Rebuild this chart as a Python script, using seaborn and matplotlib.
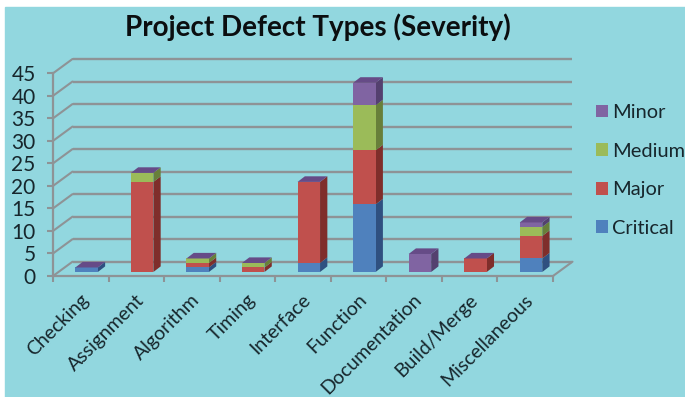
import matplotlib
matplotlib.use("Agg")
import matplotlib.pyplot as plt
from matplotlib.patches import Polygon, Rectangle
from matplotlib.transforms import Affine2D
import numpy as np
import seaborn as sns

# Defect counts per type, split by severity
categories = ["Checking", "Assignment", "Algorithm", "Timing", "Interface",
              "Function", "Documentation", "Build/Merge", "Miscellaneous"]
critical = [1, 0, 1, 0, 2, 15, 0, 0, 3]
major = [0, 20, 1, 1, 18, 12, 0, 3, 5]
medium = [0, 2, 1, 1, 0, 10, 0, 0, 2]
minor = [0, 0, 0, 0, 0, 5, 4, 0, 1]
series_names = ["Critical", "Major", "Medium", "Minor"]
y_ticks = list(range(0, 50, 5))

FRONT = ["#4F81BD", "#C0504D", "#9BBB59", "#8064A2"]
SIDE = ["#2F5080", "#7F2E2B", "#687F3A", "#54406F"]
TOP = "#664B87"
BG = "#92D7DF"
GRID = "#8E9396"
TEXT = "#17262C"
FONT = "Lato"

W, H = 685, 397
sns.set_theme(style="white", rc={"font.family": FONT})
fig = plt.figure(figsize=(W / 100, H / 100), dpi=100, facecolor="white")

# Teal panel behind everything
fig.add_artist(Rectangle((5 / W, 0), (W - 5) / W, (H - 7) / H,
                         transform=fig.transFigure, color=BG, zorder=-5))

# Plot area in pixels: front floor edge and top of the value axis
left, right, bottom, top = 53, 553, 276, 73.3
ax = fig.add_axes([left / W, 1 - bottom / H, (right - left) / W, (bottom - top) / H])
ax.patch.set_alpha(0)

n = len(categories)
px_x = (right - left) / n          # pixels per category
px_y = (bottom - top) / 45         # pixels per unit
wall_dx, wall_dy = 19.5 / px_x, 14.3 / px_y   # depth of the chart box, in data units
bar_dx, bar_dy = 7.3 / px_x, 5.6 / px_y       # depth of one bar, in data units
bar_width = 0.405

# Back wall, side wall and floor
for v in y_ticks:
    ax.plot([-0.5 + wall_dx, n - 0.5 + wall_dx], [v + wall_dy] * 2, color=GRID, lw=1.7,
            clip_on=False, solid_capstyle="butt", zorder=1)
    ax.plot([-0.5, -0.5 + wall_dx], [v, v + wall_dy], color=GRID, lw=1.5,
            clip_on=False, zorder=1)
ax.plot([n - 0.5, n - 0.5 + wall_dx], [0, wall_dy], color=GRID, lw=1.5, clip_on=False, zorder=1)

# Stacked front faces, pushed slightly back from the front edge of the floor
values = [critical, major, medium, minor]
base = np.zeros(n)
shift = ax.transData + Affine2D().translate(5.8, 4.0)
stack = []
for name, vals, front in zip(series_names, values, FRONT):
    before = len(ax.patches)
    sns.barplot(x=categories, y=vals, bottom=base, color=front, saturation=1,
                width=bar_width, ax=ax, zorder=3, linewidth=0, errorbar=None)
    for patch in ax.patches[before:]:
        patch.set_transform(shift)
        patch.set_clip_on(False)
    stack.append((base.copy(), np.array(vals, float)))
    base = base + np.array(vals, float)

# Right-hand side faces and the cap on each column
half = bar_width / 2
for i in range(n):
    xr = i + half
    for (b, v), side in zip(stack, SIDE):
        if v[i] > 0:
            ax.add_patch(Polygon([(xr, b[i]), (xr + bar_dx, b[i] + bar_dy),
                                  (xr + bar_dx, b[i] + v[i] + bar_dy), (xr, b[i] + v[i])],
                                 closed=True, fc=side, ec="none", transform=shift,
                                 clip_on=False, zorder=2.9))
    t = base[i]
    ax.add_patch(Polygon([(i - half, t), (i + half, t), (i + half + bar_dx, t + bar_dy),
                          (i - half + bar_dx, t + bar_dy)],
                         closed=True, fc=TOP, ec="none", transform=shift,
                         clip_on=False, zorder=3))

# Axes
ax.set_xlim(-0.5, n - 0.5)
ax.set_ylim(0, 45)
sns.despine(ax=ax, top=True, right=True)
for s in ("left", "bottom"):
    ax.spines[s].set_color(GRID)
    ax.spines[s].set_linewidth(1.6)
ax.set_yticks(y_ticks)
ax.set_xticks(np.arange(n + 1) - 0.5)
ax.set_xticklabels([])
ax.tick_params(axis="both", which="major", color=GRID, width=1.5, length=4,
               left=True, bottom=True, pad=3)
ax.tick_params(axis="y", labelsize=15, labelcolor=TEXT, pad=8.5)
ax.set_ylabel("")
ax.set_xlabel("")

# Slanted category names, anchored under each slot
for i, c in enumerate(categories):
    ax.annotate(c, xy=(i, 0), xytext=(-1, -15), textcoords="offset pixels",
                ha="right", va="top", rotation=45, rotation_mode="anchor",
                fontsize=14, color=TEXT, annotation_clip=False)

# Severity legend, top of the stack first
handles = [Rectangle((0, 0), 1, 1, fc=c, ec="none") for c in FRONT[::-1]]
fig.legend(handles, series_names[::-1], loc="upper left", frameon=False,
           bbox_to_anchor=(595.5 / W, 1 - 104 / H), bbox_transform=fig.transFigure,
           prop={"family": FONT, "size": 14.4}, labelcolor=TEXT, handlelength=0.6,
           handleheight=0.6, handletextpad=0.22, labelspacing=1.08, borderpad=0, borderaxespad=0)

fig.text(318 / W, 1 - 27 / H, "Project Defect Types (Severity)", ha="center", va="center",
         fontsize=20, fontweight="bold", color="#0B0E10")

fig.savefig("out.png", dpi=100)
